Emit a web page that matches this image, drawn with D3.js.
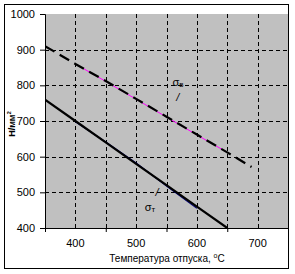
<!DOCTYPE html>
<html>
<head>
<meta charset="utf-8">
<script src="https://cdn.jsdelivr.net/npm/d3@7"></script>
<style>
  body { margin: 0; background: #fff; }
  text { font-family: "Liberation Sans", Arial, sans-serif; }
</style>
</head>
<body>
<div id="chart"></div>
<script>
// tempering temperature vs strength, N/mm2
const tempsB = [350, 400, 450, 500, 550, 600, 650, 690];
const sigmaB = [910, 860, 812, 762, 712, 662, 612, 571];
const tempsBPts = [400, 450, 500, 550, 600, 650];
const sigmaBPts = [860, 811, 761, 711, 661, 612];
const tempsT = [350, 400, 450, 500, 550, 600, 650];
const sigmaT = [760, 700, 640, 580, 520, 460, 400];
const tempsTPts = [400, 450, 500, 550, 600];
const sigmaTPts = [698, 641, 582, 518, 455];
const yTicks = [400, 500, 600, 700, 800, 900, 1000];
const xLabels = [400, 500, 600, 700];
const xTickMarks = [350, 450, 550, 650, 750];
const xGrid = [400, 450, 500, 550, 600, 650, 700];

const width = 295, height = 274;
const margin = { top: 14, right: 7, bottom: 46, left: 45 };

const svg = d3.select("#chart")
  .append("svg")
  .attr("width", width)
  .attr("height", height);

// outer frame
svg.append("rect")
  .attr("x", 4.5).attr("y", 4.5)
  .attr("width", 284).attr("height", 264)
  .attr("fill", "#fff")
  .attr("stroke", "#000");

const x = d3.scaleLinear().domain([350, 750]).range([margin.left, width - margin.right]);
const y = d3.scaleLinear().domain([400, 1000]).range([height - margin.bottom, margin.top]);

svg.append("rect")
  .attr("x", x(350)).attr("y", y(1000))
  .attr("width", x(750) - x(350)).attr("height", y(400) - y(1000))
  .attr("fill", "#c0c0c0");

svg.append("clipPath").attr("id", "plot")
  .append("rect")
  .attr("x", x(350)).attr("y", y(1000))
  .attr("width", x(750) - x(350)).attr("height", y(400) - y(1000));

// grid
const grid = svg.append("g")
  .attr("stroke", "#000")
  .attr("stroke-dasharray", "4,3");

grid.selectAll(".gx")
  .data(xGrid)
  .join("line")
  .attr("x1", d => Math.round(x(d)) + 0.5)
  .attr("x2", d => Math.round(x(d)) + 0.5)
  .attr("y1", y(1000))
  .attr("y2", y(400));

grid.selectAll(".gy")
  .data(yTicks.filter(d => d > 400 && d < 1000))
  .join("line")
  .attr("y1", d => Math.round(y(d)) + 0.5)
  .attr("y2", d => Math.round(y(d)) + 0.5)
  .attr("x1", x(350))
  .attr("x2", x(750));

// axes
const yAxis = svg.append("g")
  .attr("transform", `translate(${x(350)},0)`)
  .call(d3.axisLeft(y).tickValues(yTicks).tickFormat(d3.format("d")).tickSize(5).tickPadding(5));
yAxis.select(".domain").attr("stroke", "#000");
yAxis.selectAll("text").attr("font-size", 11).attr("fill", "#000");

const xAxis = svg.append("g")
  .attr("transform", `translate(0,${y(400)})`)
  .call(d3.axisBottom(x).tickValues(xTickMarks).tickSize(4).tickFormat(""));
xAxis.select(".domain").attr("stroke", "#000");

svg.append("g")
  .selectAll("text")
  .data(xLabels)
  .join("text")
  .attr("x", d => x(d))
  .attr("y", y(400) + 19)
  .attr("text-anchor", "middle")
  .attr("font-size", 11)
  .text(d => d);

// lines
const line = d3.line().x(d => x(d[0])).y(d => y(d[1]));
const plot = svg.append("g").attr("clip-path", "url(#plot)");

plot.append("path")
  .attr("d", line(d3.zip(tempsBPts, sigmaBPts)))
  .attr("fill", "none")
  .attr("stroke", "#ff00ff")
  .attr("stroke-width", 1);

plot.append("path")
  .attr("d", line(d3.zip(tempsB, sigmaB)))
  .attr("fill", "none")
  .attr("stroke", "#000")
  .attr("stroke-width", 2.2)
  .attr("stroke-dasharray", "11,6");

plot.append("path")
  .attr("d", line(d3.zip(tempsTPts, sigmaTPts)))
  .attr("fill", "none")
  .attr("stroke", "#000080")
  .attr("stroke-width", 1.2);

plot.append("path")
  .attr("d", line(d3.zip(tempsT, sigmaT)))
  .attr("fill", "none")
  .attr("stroke", "#000")
  .attr("stroke-width", 2.2);

// curve labels
const lab = svg.append("g").attr("font-size", 11).attr("fill", "#000");
const sb = lab.append("text").attr("x", x(560)).attr("y", y(797));
sb.append("tspan").text("σ");
sb.append("tspan").attr("font-size", 8).attr("dy", 1).text("в");
lab.append("text").attr("x", x(566)).attr("y", y(756)).attr("font-style", "italic").text("/");

const st = lab.append("text").attr("x", x(514)).attr("y", y(447));
st.append("tspan").text("σ");
st.append("tspan").attr("font-size", 8).attr("dy", 1).text("т");
lab.append("text").attr("x", x(532)).attr("y", y(490)).attr("font-style", "italic").text("/");

// axis titles
svg.append("text")
  .attr("transform", `translate(15,${(y(400) + y(1000)) / 2 + 3}) rotate(-90)`)
  .attr("text-anchor", "middle")
  .attr("font-size", 9)
  .attr("font-weight", "bold")
  .html('Н/мм<tspan font-size="6" dy="-4">2</tspan>');

const xt = svg.append("text")
  .attr("x", 167)
  .attr("y", 262)
  .attr("text-anchor", "middle")
  .attr("font-size", 10);
xt.append("tspan").text("Температура отпуска,  ");
xt.append("tspan").attr("font-size", 7).attr("dy", -4).text("o");
xt.append("tspan").attr("dy", 4).text("C");
</script>
</body>
</html>
